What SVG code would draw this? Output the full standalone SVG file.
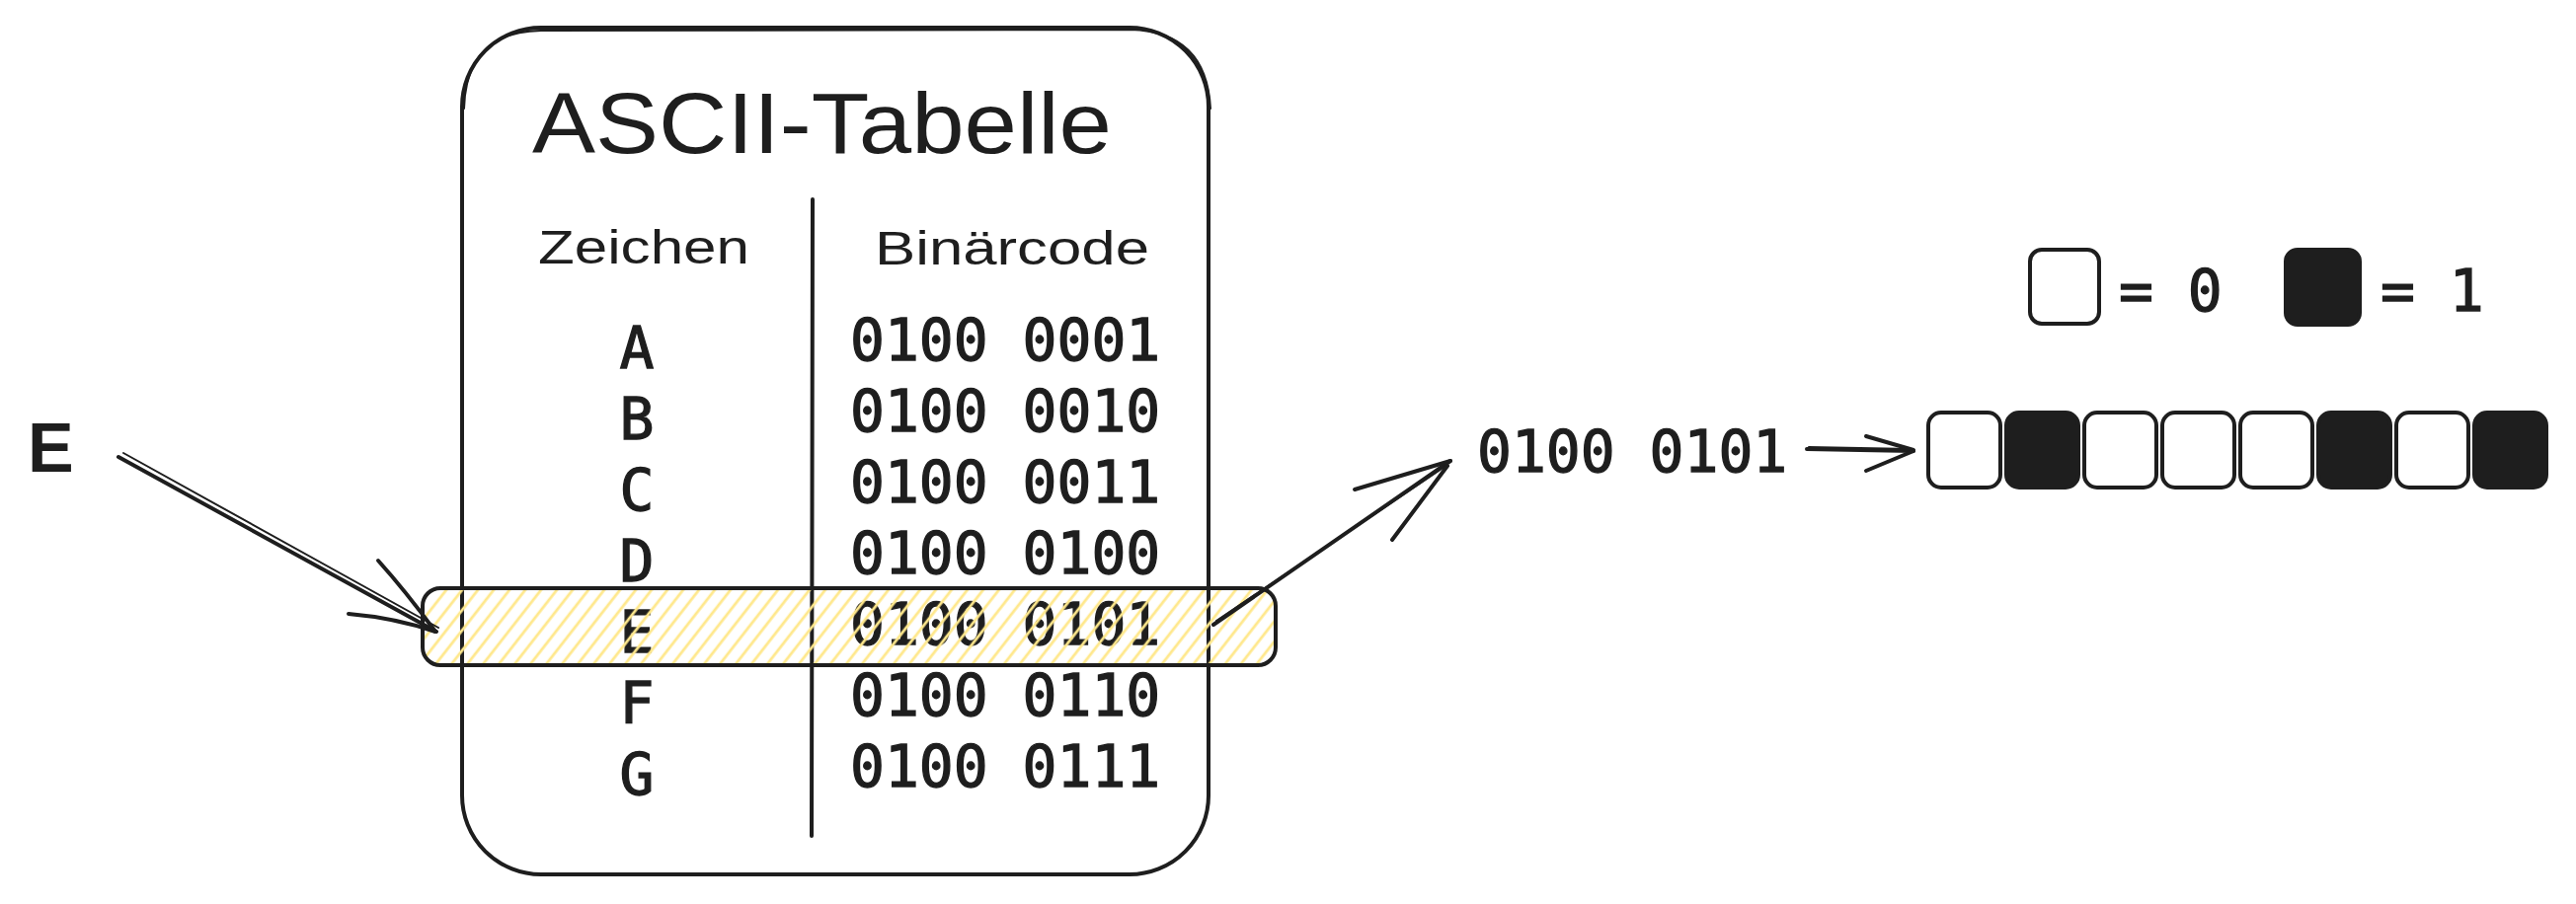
<svg xmlns="http://www.w3.org/2000/svg" width="2609" height="916" viewBox="0 0 2609 916">
<defs>
<style>
.ink{fill:none;stroke:#1e1e1e;stroke-width:4;stroke-linecap:round;stroke-linejoin:round}
.ink2{fill:none;stroke:#1e1e1e;stroke-width:2;stroke-linecap:round;stroke-linejoin:round}
.solid{fill:#1e1e1e;stroke:#1e1e1e;stroke-width:4;stroke-linejoin:round}
.mono{font-family:"DejaVu Sans Mono",monospace;font-size:58px;fill:#1e1e1e;stroke:#1e1e1e;stroke-width:1.3}
.hand{font-family:"Liberation Sans",sans-serif;fill:#1e1e1e}
</style>
<pattern id="hach" patternUnits="userSpaceOnUse" width="12.6" height="20" patternTransform="rotate(38)">
<line x1="6" y1="-2" x2="6" y2="22" stroke="#ffe88c" stroke-width="2.8"/>
</pattern>
</defs>
<rect width="2609" height="916" fill="#ffffff"/>

<g id="table">
<rect class="ink" x="468" y="28" width="756" height="858" rx="80"/>
<path class="ink2" d="M470 110 Q472 32 548 31 L1145 30 Q1222 32 1226 110"/>
<line class="ink" x1="823" y1="202" x2="822" y2="847"/>
<text class="hand" x="539" y="155" font-size="88" textLength="587" lengthAdjust="spacingAndGlyphs">ASCII-Tabelle</text>
<text class="hand" x="545" y="267" font-size="48" textLength="214" lengthAdjust="spacingAndGlyphs">Zeichen</text>
<text class="hand" x="886" y="268" font-size="48" textLength="278" lengthAdjust="spacingAndGlyphs">Binärcode</text>
<g class="mono" text-anchor="middle">
<text x="645" y="373">A</text>
<text x="645" y="445">B</text>
<text x="645" y="517">C</text>
<text x="645" y="589">D</text>
<text x="645" y="661">E</text>
<text x="645" y="733">F</text>
<text x="645" y="805">G</text>
</g>
<g class="mono">
<text x="861" y="365">0100 0001</text>
<text x="861" y="437">0100 0010</text>
<text x="861" y="509">0100 0011</text>
<text x="861" y="581">0100 0100</text>
<text x="861" y="653">0100 0101</text>
<text x="861" y="725">0100 0110</text>
<text x="861" y="797">0100 0111</text>
</g>
</g>

<g id="highlight">
<rect x="428" y="596" width="864" height="78" rx="18" fill="url(#hach)"/>
<rect class="ink" x="428" y="596" width="864" height="78" rx="18"/>
</g>

<g id="label-E">
<text class="hand" x="28" y="478" font-size="70" font-weight="bold">E</text>
</g>

<g id="result-code">
<text class="mono" x="1496" y="478">0100 0101</text>
</g>

<g id="legend">
<rect class="ink" x="2056" y="253" width="70" height="75" rx="12"/>
<text class="mono" x="2146" y="315">= 0</text>
<rect class="solid" x="2315" y="253" width="75" height="76" rx="12"/>
<text class="mono" x="2411" y="315">= 1</text>
</g>

<g id="bits">
<rect class="ink" x="1953" y="418" width="73" height="76" rx="13"/>
<rect class="solid" x="2032" y="418" width="73" height="76" rx="13"/>
<rect class="ink" x="2111" y="418" width="73" height="76" rx="13"/>
<rect class="ink" x="2190" y="418" width="73" height="76" rx="13"/>
<rect class="ink" x="2269" y="418" width="73" height="76" rx="13"/>
<rect class="solid" x="2348" y="418" width="73" height="76" rx="13"/>
<rect class="ink" x="2427" y="418" width="73" height="76" rx="13"/>
<rect class="solid" x="2506" y="418" width="73" height="76" rx="13"/>
</g>

<g id="connectors">
<path class="ink" d="M120 463 L442 640"/>
<path class="ink2" d="M125 459 L444 636"/>
<path class="ink" d="M383 568 Q410 598 441 640"/>
<path class="ink" d="M353 622 Q400 626 441 640"/>
<path class="ink" d="M1229 633 L1469 467"/>
<path class="ink2" d="M1232 629 L1466 471"/>
<path class="ink" d="M1372 496 L1469 467"/>
<path class="ink" d="M1410 547 L1466 472"/>
<path class="ink" d="M1830 455 L1938 457"/>
<path class="ink2" d="M1832 453 L1936 455"/>
<path class="ink" d="M1890 442 L1938 456"/>
<path class="ink" d="M1890 477 L1938 457"/>
</g>
</svg>
